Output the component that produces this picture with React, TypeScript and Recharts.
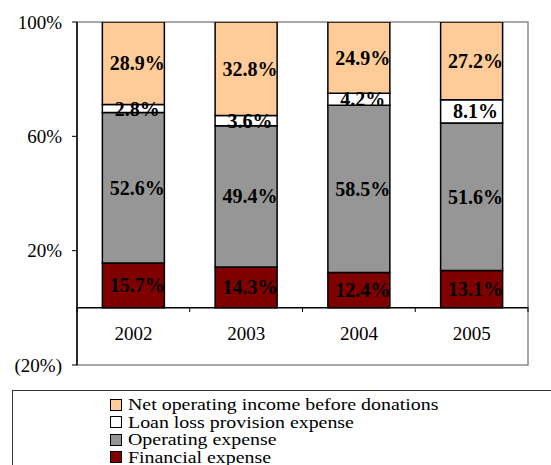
import React from 'react';
import {
  BarChart,
  Bar,
  XAxis,
  YAxis,
  LabelList,
  Legend,
  ReferenceArea,
  ReferenceLine,
} from 'recharts';

const years = ['2002', '2003', '2004', '2005'];
const financialExpense = [15.7, 14.3, 12.4, 13.1];
const operatingExpense = [52.6, 49.4, 58.5, 51.6];
const loanLossProvision = [2.8, 3.6, 4.2, 8.1];
const netOperatingIncome = [28.9, 32.8, 24.9, 27.2];
const yTicks = [-20, 20, 60, 100];

const series = [
  { key: 'financial', name: 'Financial expense', color: '#800000', values: financialExpense },
  { key: 'operating', name: 'Operating expense', color: '#969696', values: operatingExpense },
  { key: 'loanLoss', name: 'Loan loss provision expense', color: '#ffffff', values: loanLossProvision },
  { key: 'netIncome', name: 'Net operating income before donations', color: '#ffcc99', values: netOperatingIncome },
];

const data = years.map((year, i) => {
  const row: Record<string, string | number> = { year };
  series.forEach((s) => {
    row[s.key] = s.values[i];
  });
  return row;
});

const FONT = '"Liberation Serif", "Times New Roman", serif';
const BAND = (551 - 77 - 23) / years.length;

const formatPct = (v: number) => (v < 0 ? `(${-v}%)` : `${v}%`);

const YearTick = (props: any) => {
  const { x, y, payload, index } = props;
  const zeroY = y - 58;
  return (
    <g>
      <text
        x={x}
        y={y - 25}
        textAnchor="middle"
        fontFamily={FONT}
        fontSize={19}
        fill="#000"
      >
        {payload.value}
      </text>
      <line x1={x - BAND / 2} x2={x - BAND / 2} y1={zeroY} y2={zeroY + 5} stroke="#000" />
      {index === years.length - 1 && (
        <line x1={x + BAND / 2} x2={x + BAND / 2} y1={zeroY} y2={zeroY + 5} stroke="#000" />
      )}
    </g>
  );
};

const LegendBox = () => (
  <div
    style={{
      border: '1px solid #333',
      width: 560,
      height: 90,
      boxSizing: 'border-box',
      paddingLeft: 97,
      paddingTop: 5,
      fontFamily: FONT,
      fontSize: 17,
      lineHeight: '17.5px',
      color: '#000',
    }}
  >
    {[...series].reverse().map((s) => (
      <div key={s.key} style={{ display: 'flex', alignItems: 'center', whiteSpace: 'nowrap', height: 17.5 }}>
        <span
          style={{
            display: 'inline-block',
            width: 10,
            height: 10,
            background: s.color,
            border: '1px solid #000',
            marginRight: 6,
            flex: 'none',
          }}
        />
        <span style={{ display: 'inline-block', transform: 'scaleX(1.17)', transformOrigin: 'left center' }}>
          {s.name}
        </span>
      </div>
    ))}
  </div>
);

export default function App() {
  return (
    <div style={{ position: 'absolute', left: 0, top: 0, width: 551, height: 465, overflow: 'hidden', background: '#fff' }}>
      <BarChart
        width={551}
        height={465}
        data={data}
        margin={{ top: 22, right: 23, bottom: 70, left: 0 }}
        barCategoryGap="22.5%"
      >
        <ReferenceArea y1={-20} y2={100} fill="none" stroke="#8c8c8c" strokeWidth={1.5} />
        <XAxis
          dataKey="year"
          height={30}
          axisLine={false}
          tickLine={false}
          tickSize={0}
          tickMargin={0}
          tick={<YearTick />}
          interval={0}
        />
        <YAxis
          width={77}
          domain={[-20, 100]}
          ticks={yTicks}
          tickFormatter={formatPct}
          axisLine={{ stroke: '#000', strokeWidth: 1.5 }}
          tickLine={{ stroke: '#000' }}
          tickSize={5}
          tickMargin={10}
          tick={{ fill: '#000', fontFamily: FONT, fontSize: 19 }}
          allowDataOverflow
        />
        {series.map((s) => (
          <Bar
            key={s.key}
            dataKey={s.key}
            name={s.name}
            stackId="a"
            fill={s.color}
            stroke="#000"
            strokeWidth={1.5}
            isAnimationActive={false}
          >
            <LabelList
              dataKey={s.key}
              position="center"
              formatter={(v: number) => `${v}%`}
              fill="#000"
              fontFamily={FONT}
              fontSize={20}
              fontWeight="bold"
              offset={0}
              dx={4}
            />
          </Bar>
        ))}
        <ReferenceLine y={0} stroke="#000" strokeWidth={1.5} />
        <Legend
          layout="horizontal"
          verticalAlign="middle"
          align="center"
          wrapperStyle={{ position: 'absolute', left: 12, top: 390, width: 560, height: 90 }}
          content={<LegendBox />}
        />
      </BarChart>
    </div>
  );
}
